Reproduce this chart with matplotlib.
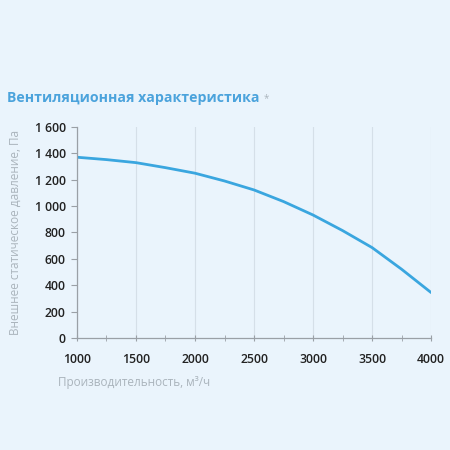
import matplotlib
matplotlib.use("Agg")
import matplotlib.pyplot as plt
from matplotlib.ticker import FuncFormatter, MultipleLocator

# flow rate, m3/h and static pressure, Pa
flow = [1000, 1250, 1500, 1750, 2000, 2250, 2500, 2750, 3000, 3250, 3500, 3750, 4000]
pressure = [1370, 1352, 1329, 1291, 1249, 1190, 1122, 1034, 932, 814, 685, 521, 344]

x_ticks = [1000, 1500, 2000, 2500, 3000, 3500, 4000]
y_ticks = [0, 200, 400, 600, 800, 1000, 1200, 1400, 1600]

bg = "#eaf4fc"
line_color = "#3aa6df"
title_color = "#4ba3dc"
label_gray = "#aab4bc"
axis_gray = "#9aa0a6"

plt.rcParams["font.family"] = ["Open Sans", "DejaVu Sans"]

fig = plt.figure(figsize=(4.5, 4.5), dpi=100, facecolor=bg)
ax = fig.add_axes([0.171, 0.249, 0.787, 0.469], facecolor=bg)

ax.plot(flow, pressure, color=line_color, linewidth=2.0, solid_capstyle="round")

ax.set_xlim(1000, 4000)
ax.set_ylim(0, 1600)
ax.set_xticks(x_ticks)
ax.set_yticks(y_ticks)
ax.xaxis.set_minor_locator(MultipleLocator(250))
ax.yaxis.set_major_formatter(FuncFormatter(lambda v, p: f"{int(v):,}".replace(",", " ")))

ax.grid(axis="x", which="major", color="#d5dfe8", linewidth=0.8)
for s in ["top", "right"]:
    ax.spines[s].set_visible(False)
for s in ["left", "bottom"]:
    ax.spines[s].set_color(axis_gray)
    ax.spines[s].set_linewidth(0.9)

ax.tick_params(axis="x", which="both", direction="inout", length=5, color=axis_gray,
               labelsize=8.8, labelcolor="#222222", pad=8)
ax.tick_params(axis="y", direction="out", length=4, color=axis_gray,
               labelsize=8.8, labelcolor="#222222", pad=4)
for lbl in ax.get_xticklabels() + ax.get_yticklabels():
    lbl.set_fontweight("semibold")

ax.set_ylabel("Внешнее статическое давление, Па", color=label_gray, fontsize=8.5)
ax.yaxis.set_label_coords(-0.155, 0.5)
fig.text(0.129, 0.151, "Производительность, м³/ч", color=label_gray, fontsize=8.5,
         ha="left", va="center")

title = fig.text(0.016, 0.783, "Вентиляционная характеристика", color=title_color,
                 fontsize=10.2, fontweight="bold", ha="left", va="center")
fig.canvas.draw()
ax.annotate("*", xy=(1, 1), xycoords=title, xytext=(3, -2), textcoords="offset points",
            color=label_gray, fontsize=7, ha="left", va="top", annotation_clip=False)

fig.savefig("out.png", dpi=100, facecolor=bg)
